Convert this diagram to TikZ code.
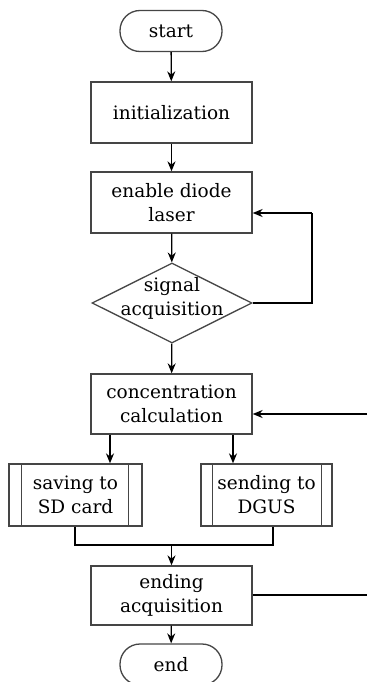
\documentclass[tikz,border=0pt]{standalone}
\usepackage{fontspec}
\setmainfont{DejaVu Serif}
\usetikzlibrary{shapes.geometric,arrows.meta}
\definecolor{boxc}{HTML}{454545}
\begin{document}
\begin{tikzpicture}[x=1pt,y=-1pt,
  every node/.style={font=\fontsize{18.5}{24}\selectfont, align=center, inner sep=0pt},
  term/.style={draw=boxc, line width=1.3pt, rectangle, rounded corners=20pt, minimum width=102pt, minimum height=41pt},
  procbox/.style={draw=boxc, line width=1.3pt, rectangle, minimum width=161pt, minimum height=61pt},
  subbox/.style={draw=boxc, line width=1.3pt, rectangle, minimum height=62pt},
  dia/.style={draw=boxc, line width=1.3pt, diamond, aspect=2, minimum width=160pt, minimum height=80pt},
  bar/.style={draw=boxc, line width=1.3pt},
  conn/.style={draw=black, line width=1.3pt},
  arr/.style={conn, -{Stealth[length=10pt,width=8pt]}}]
\useasboundingbox (0,0) rectangle (367,682);
\node[term] (start) at (171,31) {start};
\node[procbox] (init) at (171.5,112.5) {initialization};
\node[procbox] (enable) at (171.5,202.5) {enable diode\\laser};
\node[dia] (sig) at (172,303) {};
\node (sigt) at (172,298) {signal\\acquisition};
\node[procbox, minimum height=60pt] (conc) at (171.5,404) {concentration\\calculation};
\node[subbox, minimum width=133pt] (save) at (75.5,495) {saving to\\SD card};
\node[subbox, minimum width=131pt] (send) at (266.5,495) {sending to\\DGUS};
\node[procbox, minimum height=59pt] (ending) at (171.5,595.5) {ending\\acquisition};
\node[term] (end) at (171,664.5) {end};
% inner bars of subroutine boxes
\draw[bar] ([xshift=13pt]save.north west) -- ([xshift=13pt]save.south west);
\draw[bar] ([xshift=-14pt]save.north east) -- ([xshift=-14pt]save.south east);
\draw[bar] ([xshift=12pt]send.north west) -- ([xshift=12pt]send.south west);
\draw[bar] ([xshift=-11pt]send.north east) -- ([xshift=-11pt]send.south east);
% coordinates
\coordinate (loopR) at (312,303);
\coordinate (loopT) at (312,213);
\coordinate (concIn) at (367,414);
\coordinate (endOut) at (367,595);
\coordinate (mergeL) at (75,545);
\coordinate (mergeR) at (273,545);
\coordinate (mergeC) at (171.5,545);
\coordinate (x1) at (110,0);
\coordinate (x2) at (233,0);
% connectors
\draw[arr] (start) -- (init);
\draw[arr] (init) -- (enable);
\draw[arr] (enable) -- (sig);
\draw[arr] (sig) -- (conc);
\draw[conn] (sig.east) -- (loopR) -- (loopT);
\draw[arr] (loopT) -- (loopT -| enable.east);
\draw[arr] (concIn) -- (concIn -| conc.east);
\draw[arr] (conc.south -| x1) -- (save.north -| x1);
\draw[arr] (conc.south -| x2) -- (send.north -| x2);
\draw[conn] (save.south -| mergeL) -- (mergeL) -- (mergeR) -- (send.south -| mergeR);
\draw[arr] (mergeC) -- (ending);
\draw[arr] (ending) -- (end);
\draw[conn] (ending.east |- endOut) -- (endOut);
\end{tikzpicture}
\end{document}
